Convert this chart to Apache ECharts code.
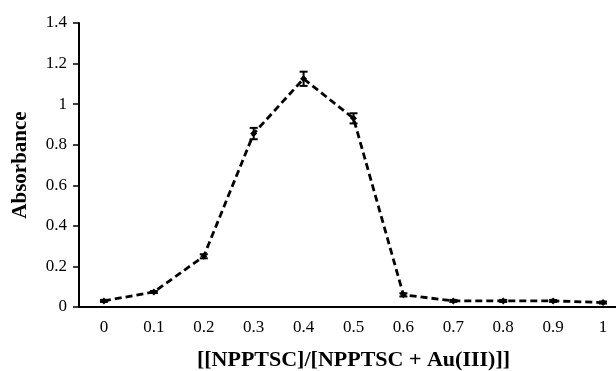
<!DOCTYPE html>
<html>
<head>
<meta charset="utf-8">
<script src="https://cdn.jsdelivr.net/npm/echarts@6/dist/echarts.min.js"></script>
<style>html,body{margin:0;padding:0;background:#fff}#c{width:616px;height:371px}</style>
</head>
<body>
<div id="c"></div>
<script>
const categories = ['0','0.1','0.2','0.3','0.4','0.5','0.6','0.7','0.8','0.9','1'];
const absorbance = [0.03, 0.074, 0.25, 0.855, 1.125, 0.93, 0.06, 0.03, 0.03, 0.03, 0.022];
const errors = [0.005, 0.005, 0.01, 0.028, 0.035, 0.025, 0.008, 0.005, 0.005, 0.005, 0.005];
const yTicks = { min: 0, max: 1.4, interval: 0.2 };

const errData = categories.map((c, i) => [i, absorbance[i] - errors[i], absorbance[i] + errors[i]]);

const chart = echarts.init(document.getElementById('c'));
const font = '"Liberation Serif", "Times New Roman", serif';
chart.setOption({
  animation: false,
  grid: { left: 79, top: 23, height: 284, width: 549, containLabel: false, outerBoundsMode: 'none' },
  xAxis: {
    type: 'category',
    data: categories,
    boundaryGap: true,
    axisLine: { lineStyle: { color: '#000', width: 2 } },
    axisTick: { show: false },
    axisLabel: { color: '#000', fontFamily: font, fontSize: 17, margin: 12 },
    name: '[[NPPTSC]/[NPPTSC + Au(III)]]',
    nameLocation: 'middle',
    nameGap: 42,
    nameTextStyle: { color: '#000', fontFamily: font, fontSize: 22, fontWeight: 'bold' }
  },
  yAxis: {
    type: 'value',
    min: yTicks.min, max: yTicks.max, interval: yTicks.interval,
    splitLine: { show: false },
    axisLine: { show: true, lineStyle: { color: '#000', width: 2 } },
    axisTick: { show: true, length: 6, lineStyle: { color: '#000', width: 1.5 } },
    axisLabel: { color: '#000', fontFamily: font, fontSize: 17, margin: 12,
      formatter: v => String(Math.round(v * 10) / 10) },
    name: 'Absorbance',
    nameLocation: 'middle',
    nameGap: 48,
    nameTextStyle: { color: '#000', fontFamily: font, fontSize: 21, fontWeight: 'bold' }
  },
  series: [
    {
      type: 'line',
      data: absorbance,
      symbol: 'diamond',
      symbolSize: 7,
      itemStyle: { color: '#000' },
      lineStyle: { color: '#000', width: 2.8, type: [7, 4] },
      z: 2
    },
    {
      type: 'custom',
      data: errData,
      z: 3,
      renderItem: function (params, api) {
        const x = api.value(0);
        const lo = api.coord([x, api.value(1)]);
        const hi = api.coord([x, api.value(2)]);
        const w = 4;
        const style = { stroke: '#000', lineWidth: 2 };
        return {
          type: 'group',
          children: [
            { type: 'line', shape: { x1: lo[0], y1: lo[1], x2: hi[0], y2: hi[1] }, style },
            { type: 'line', shape: { x1: lo[0] - w, y1: lo[1], x2: lo[0] + w, y2: lo[1] }, style },
            { type: 'line', shape: { x1: hi[0] - w, y1: hi[1], x2: hi[0] + w, y2: hi[1] }, style }
          ]
        };
      }
    }
  ]
});
</script>
</body>
</html>
